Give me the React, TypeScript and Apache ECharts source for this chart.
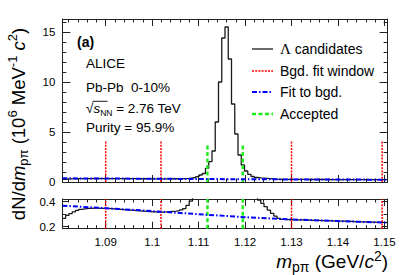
import React, { useEffect, useRef } from "react";
import * as echarts from "echarts";

// ---------- data ----------
const binStart = 1.08068; // GeV/c^2, left edge of first bin
const binWidth = 0.0007; // GeV/c^2
const candidates = [
  0.267, 0.29, 0.305, 0.318, 0.33, 0.338, 0.343, 0.346, 0.347, 0.348,
  0.348, 0.347, 0.347, 0.346, 0.345, 0.343, 0.341, 0.339, 0.337, 0.335,
  0.333, 0.331, 0.329, 0.327, 0.325, 0.323, 0.321, 0.319, 0.318, 0.317,
  0.317, 0.318, 0.32, 0.323, 0.325, 0.328, 0.334, 0.345, 0.37, 0.405,
  0.45, 0.53, 0.7, 0.85, 1.37, 2.03, 3.1, 6.0, 10.0, 14.4,
  15.5, 12.3, 7.8, 4.8, 2.7, 1.7, 1.1, 0.77, 0.55, 0.45,
  0.413, 0.387, 0.36, 0.333, 0.307, 0.285, 0.267, 0.259, 0.257, 0.256,
  0.256, 0.255, 0.254, 0.254, 0.253, 0.252, 0.251, 0.251, 0.25, 0.249,
  0.248, 0.248, 0.247, 0.246, 0.245, 0.245, 0.244, 0.243, 0.242, 0.241,
  0.24, 0.239, 0.239, 0.238, 0.237, 0.236, 0.235, 0.234, 0.234, 0.233,
];
const fitX = [1.08068, 1.09, 1.1, 1.11, 1.12, 1.13, 1.14, 1.15068];
const fitY = [0.368, 0.348, 0.325, 0.3, 0.276, 0.258, 0.245, 0.232];
const windowX = [1.09, 1.1019, 1.13, 1.1495];
const acceptedX = [1.1119, 1.1195];
const windowTop = 4.15;
const acceptedTop = 3.9;

const xRange = [1.08068, 1.15068];
const xTicks = [1.09, 1.1, 1.11, 1.12, 1.13, 1.14, 1.15];
const xMinorTicks = Array.from({ length: 35 }, (_, i) => +(1.082 + 0.002 * i).toFixed(3)).filter(
  (v) => !xTicks.some((t) => Math.abs(t - v) < 1e-6)
);
const yRangeTop = [0, 16.3];
const yTicksTop = [0, 5, 10, 15];
const yMinorTop = [1, 2, 3, 4, 6, 7, 8, 9, 11, 12, 13, 14, 16];
const yRangeBottom = [0.184, 0.4216];
const yTicksBottom = [0.2, 0.4];
const yMinorBottom = [0.3];

const FONT = "Liberation Sans";
const FRAME = "#222";
const RED = "#ff0000";
const RED_DASH = [2, 1.2];
const GREEN = "#1aee1a";
const GREEN_DASH = [4, 2.5];
const BLUE = "#0000ff";
const BLUE_DASH = [5, 2, 1.5, 2];

function xAxis(grid: number, pos: string, ticks: number[], len: number, label: boolean, line: boolean) {
  return {
    type: "value",
    gridIndex: grid,
    position: pos,
    min: xRange[0],
    max: xRange[1],
    axisLine: { show: line, onZero: false, lineStyle: { color: FRAME, width: 1 } },
    axisTick: { show: true, inside: true, length: len, customValues: ticks, lineStyle: { color: FRAME, width: 1 } },
    axisLabel: {
      show: label,
      customValues: ticks,
      margin: 7,
      color: "#000",
      fontFamily: FONT,
      fontSize: 11.5,
      formatter: (v: number) => String(+v.toFixed(3)),
    },
    splitLine: { show: false },
  };
}
function yAxis(grid: number, pos: string, range: number[], ticks: number[], len: number, label: boolean, line: boolean) {
  return {
    type: "value",
    gridIndex: grid,
    position: pos,
    min: range[0],
    max: range[1],
    axisLine: { show: line, onZero: false, lineStyle: { color: FRAME, width: 1 } },
    axisTick: { show: true, inside: true, length: len, customValues: ticks, lineStyle: { color: FRAME, width: 1 } },
    axisLabel: {
      show: label,
      customValues: ticks,
      margin: 7,
      color: "#000",
      fontFamily: FONT,
      fontSize: 11.5,
      formatter: (v: number) => String(+v.toFixed(3)),
    },
    splitLine: { show: false },
  };
}

function buildOption() {
  const hist: number[][] = candidates.map((v, i) => [binStart + i * binWidth, v]);
  hist.push([binStart + candidates.length * binWidth, candidates[candidates.length - 1]]);
  const fit = fitX.map((x, i) => [x, fitY[i]]);

  const series: any[] = [];
  [0, 4].forEach((ax) => {
    series.push({
      type: "line",
      xAxisIndex: ax,
      yAxisIndex: ax,
      data: hist,
      step: "end",
      showSymbol: false,
      symbol: "none",
      lineStyle: { color: "#1a1a1a", width: 1.3 },
      z: 2,
    });
  });
  windowX.forEach((x) => {
    series.push({
      type: "line", xAxisIndex: 0, yAxisIndex: 0, symbol: "none", color: RED,
      data: [[x, 0], [x, windowTop]],
      lineStyle: { color: RED, width: 1.5, type: RED_DASH }, z: 3,
    });
    series.push({
      type: "line", xAxisIndex: 4, yAxisIndex: 4, symbol: "none", color: RED,
      data: [[x, yRangeBottom[0]], [x, yRangeBottom[1]]],
      lineStyle: { color: RED, width: 1.5, type: RED_DASH }, z: 3,
    });
  });
  acceptedX.forEach((x) => {
    series.push({
      type: "line", xAxisIndex: 0, yAxisIndex: 0, symbol: "none", color: GREEN,
      data: [[x, 0], [x, acceptedTop]],
      lineStyle: { color: GREEN, width: 2.4, type: GREEN_DASH }, z: 4,
    });
    series.push({
      type: "line", xAxisIndex: 4, yAxisIndex: 4, symbol: "none", color: GREEN,
      data: [[x, yRangeBottom[0]], [x, yRangeBottom[1]]],
      lineStyle: { color: GREEN, width: 2.4, type: GREEN_DASH }, z: 4,
    });
  });
  [0, 4].forEach((ax) => {
    series.push({
      type: "line", xAxisIndex: ax, yAxisIndex: ax, symbol: "none", color: BLUE,
      data: fit,
      lineStyle: { color: BLUE, width: 2, type: BLUE_DASH }, z: 5,
    });
  });

  const richBase = (size: number, sub: number) => ({
    n: { fontSize: size, fontFamily: FONT, fill: "#000", lineHeight: size + 6 },
    i: { fontSize: size, fontFamily: FONT, fontStyle: "italic", fill: "#000", lineHeight: size + 6 },
    sub: { fontSize: sub, fontFamily: FONT, fill: "#000", verticalAlign: "bottom" },
    sup: { fontSize: sub, fontFamily: FONT, fill: "#000", verticalAlign: "top" },
  });

  const legendRows = [
    { y: 49, stroke: "#1a1a1a", width: 1.3, dash: null as any, text: "{s|Λ}{n| candidates}" },
    { y: 71, stroke: RED, width: 1.5, dash: RED_DASH, text: "{n|Bgd. fit window}" },
    { y: 92, stroke: BLUE, width: 2, dash: BLUE_DASH, text: "{n|Fit to bgd.}" },
    { y: 114, stroke: GREEN, width: 2.4, dash: GREEN_DASH, text: "{n|Accepted}" },
  ];
  const graphic: any[] = [];
  legendRows.forEach((r) => {
    graphic.push({
      type: "line",
      shape: { x1: 252, y1: r.y, x2: 273, y2: r.y },
      style: { stroke: r.stroke, lineWidth: r.width, lineDash: r.dash || undefined },
    });
    graphic.push({
      type: "text",
      x: 280,
      y: r.y,
      style: {
        text: r.text,
        verticalAlign: "middle",
        align: "left",
        rich: {
          n: { fontSize: 14, fontFamily: FONT, fill: "#000" },
          s: { fontSize: 15, fontFamily: "Liberation Serif", fill: "#000" },
        },
      },
    });
  });

  const info = [
    { y: 63, text: "{n|ALICE}" },
    { y: 87, text: "{n|Pb-Pb  0-10%}" },
    { y: 108, text: "{n|√}{i|s}{sub|NN}{n| = 2.76 TeV}" },
    { y: 127, text: "{n|Purity = 95.9%}" },
  ];
  info.forEach((t) => {
    graphic.push({
      type: "text",
      x: 86,
      y: t.y,
      style: {
        text: t.text,
        align: "left",
        verticalAlign: "middle",
        rich: {
          n: { fontSize: 13.5, fontFamily: FONT, fill: "#000", lineHeight: 18 },
          i: { fontSize: 13.5, fontFamily: FONT, fontStyle: "italic", fill: "#000", lineHeight: 18 },
          sub: { fontSize: 8.5, fontFamily: FONT, fill: "#000", verticalAlign: "bottom" },
        },
      },
    });
  });
  graphic.push({
    type: "line",
    shape: { x1: 92.5, y1: 101.3, x2: 107.5, y2: 101.3 },
    style: { stroke: "#000", lineWidth: 0.9 },
  });
  graphic.push({
    type: "text",
    x: 77,
    y: 42,
    style: { text: "(a)", fontFamily: FONT, fontWeight: "bold", fontSize: 14, fill: "#000", align: "left", verticalAlign: "middle" },
  });
  graphic.push({
    type: "text",
    x: 18,
    y: 124,
    rotation: Math.PI / 2,
    style: {
      text: "{n|dN/d}{i|m}{sub|pπ}{n| (10}{sup|6}{n| MeV}{sup|-1}{n| }{i|c}{sup|2}{n|)}",
      align: "center",
      verticalAlign: "middle",
      rich: richBase(18.5, 13),
    },
  });
  graphic.push({
    type: "text",
    x: 388,
    y: 261,
    style: {
      text: "{i|m}{sub|pπ}{n| (GeV/}{i|c}{sup|2}{n|)}",
      align: "right",
      verticalAlign: "middle",
      rich: richBase(19, 14),
    },
  });

  return {
    animation: false,
    grid: [
      { left: 62.4, top: 19, width: 325.2, height: 163 },
      { left: 62.4, top: 199, width: 325.2, height: 29.7 },
    ],
    xAxis: [
      xAxis(0, "bottom", xTicks, 7, false, true),
      xAxis(0, "bottom", xMinorTicks, 3.5, false, false),
      xAxis(0, "top", xTicks, 7, false, true),
      xAxis(0, "top", xMinorTicks, 3.5, false, false),
      xAxis(1, "bottom", xTicks, 7, true, true),
      xAxis(1, "bottom", xMinorTicks, 3.5, false, false),
      xAxis(1, "top", xTicks, 7, false, true),
      xAxis(1, "top", xMinorTicks, 3.5, false, false),
    ],
    yAxis: [
      yAxis(0, "left", yRangeTop, yTicksTop, 8, true, true),
      yAxis(0, "left", yRangeTop, yMinorTop, 4, false, false),
      yAxis(0, "right", yRangeTop, yTicksTop, 8, false, true),
      yAxis(0, "right", yRangeTop, yMinorTop, 4, false, false),
      yAxis(1, "left", yRangeBottom, yTicksBottom, 6, true, true),
      yAxis(1, "left", yRangeBottom, yMinorBottom, 4, false, false),
      yAxis(1, "right", yRangeBottom, yTicksBottom, 6, false, true),
      yAxis(1, "right", yRangeBottom, yMinorBottom, 4, false, false),
    ],
    series,
    graphic,
  };
}

export default function App() {
  const ref = useRef<HTMLDivElement>(null);
  useEffect(() => {
    document.body.style.margin = "0";
    const chart = echarts.init(ref.current as HTMLDivElement, null, { renderer: "svg" });
    chart.setOption(buildOption() as any);
    return () => chart.dispose();
  }, []);
  return <div ref={ref} style={{ width: 407, height: 275, background: "#fff" }} />;
}
